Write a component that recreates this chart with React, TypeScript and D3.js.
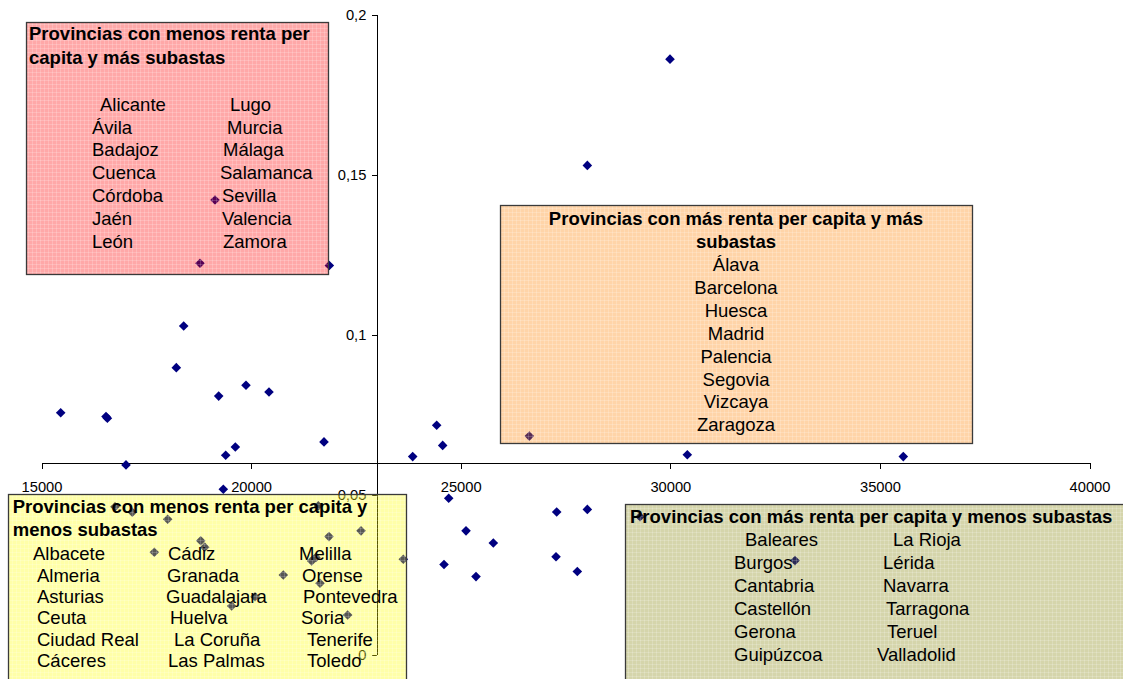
import React from "react";
import * as d3 from "d3";

// ---- data ----
const rentaPerCapita = [
  15446, 16527, 16560, 17004, 18380, 18204, 19215, 19866, 20415, 19382, 19612, 21727,
  23843, 24558, 24415, 30394, 35546, 29981, 28009, 19127, 18769, 21854, 26625, 19325,
  24702, 27278, 28009, 25115, 25766, 27262, 24590, 25353, 27770, 23619, 29266, 32963,
  16741, 17154, 17998, 21591, 22610, 21846, 18786, 18881, 17679, 21433, 21536, 20756,
  21632, 20081, 19525, 22292,
];
const subastas = [
  0.0757, 0.0745, 0.074, 0.0594, 0.1028, 0.0898, 0.0809, 0.0843, 0.0822, 0.0624, 0.065, 0.0666,
  0.062, 0.0655, 0.0718, 0.0626, 0.062, 0.1862, 0.153, 0.1422, 0.1224, 0.1217, 0.0684, 0.0518,
  0.049, 0.0447, 0.0455, 0.0388, 0.035, 0.0307, 0.0283, 0.0245, 0.0261, 0.0299, 0.0432, 0.0295,
  0.0463, 0.0446, 0.0424, 0.0466, 0.0388, 0.037, 0.0357, 0.0337, 0.0321, 0.0294, 0.0305, 0.025,
  0.0224, 0.0182, 0.0153, 0.0125,
];
const xTickValues = [15000, 20000, 25000, 30000, 35000, 40000];
const yTickValues = [0, 0.05, 0.1, 0.15, 0.2];
const xCross = 23000;
const yCross = 0.06;

const pinkTitle = ["Provincias con menos renta per", "capita y más subastas"];
const pinkCol1 = ["Alicante", "Ávila", "Badajoz", "Cuenca", "Córdoba", "Jaén", "León"];
const pinkCol2 = ["Lugo", "Murcia", "Málaga", "Salamanca", "Sevilla", "Valencia", "Zamora"];

const orangeTitle = ["Provincias con más renta per capita y más", "subastas"];
const orangeNames = ["Álava", "Barcelona", "Huesca", "Madrid", "Palencia", "Segovia", "Vizcaya", "Zaragoza"];

const yellowTitle = ["Provincias con menos renta per capita y", "menos subastas"];
const yellowCol1 = ["Albacete", "Almeria", "Asturias", "Ceuta", "Ciudad Real", "Cáceres"];
const yellowCol2 = ["Cádiz", "Granada", "Guadalajara", "Huelva", "La Coruña", "Las Palmas"];
const yellowCol3 = ["Melilla", "Orense", "Pontevedra", "Soria", "Tenerife", "Toledo"];

const khakiTitle = ["Provincias con más renta per capita y menos subastas"];
const khakiCol1 = ["Baleares", "Burgos", "Cantabria", "Castellón", "Gerona", "Guipúzcoa"];
const khakiCol2 = ["La Rioja", "Lérida", "Navarra", "Tarragona", "Teruel", "Valladolid"];

// ---- layout ----
const W = 1123;
const H = 679;
const FONT = "'Liberation Sans', Arial, Helvetica, sans-serif";
const BOX_FS = 18.5;
const AXIS_FS = 14.7;

const x = d3.scaleLinear().domain([15000, 40000]).range([42, 1090]);
const y = d3.scaleLinear().domain([0, 0.2]).range([655, 15]);

const fmtY = (d: number) => (d === 0 ? "0" : String(d).replace(".", ","));

type Col = { names: string[]; xs: number[] };
type Box = {
  id: string;
  rect: [number, number, number, number];
  color: string;
  alpha: number;
  title: string[];
  titleX: number;
  titleY0: number;
  titleDy: number;
  anchor: "start" | "middle";
  cols: Col[];
  rowY0: number;
  rowDy: number;
};

const boxes: Box[] = [
  {
    id: "pink",
    rect: [26, 22, 328, 274],
    color: "#ff0000",
    alpha: 0.34,
    title: pinkTitle,
    titleX: 29,
    titleY0: 40,
    titleDy: 23.5,
    anchor: "start",
    cols: [
      { names: pinkCol1, xs: [100, 92, 92, 92, 92, 92, 92] },
      { names: pinkCol2, xs: [230, 227, 223, 220, 222, 222, 223] },
    ],
    rowY0: 110.8,
    rowDy: 22.8,
  },
  {
    id: "orange",
    rect: [500, 205, 972, 443],
    color: "#ff8000",
    alpha: 0.34,
    title: orangeTitle,
    titleX: 736,
    titleY0: 225,
    titleDy: 23.3,
    anchor: "middle",
    cols: [{ names: orangeNames, xs: orangeNames.map(() => 736) }],
    rowY0: 271,
    rowDy: 22.9,
  },
  {
    id: "yellow",
    rect: [8, 494, 406, 700],
    color: "#ffff00",
    alpha: 0.34,
    title: yellowTitle,
    titleX: 12.7,
    titleY0: 513,
    titleDy: 22.5,
    anchor: "start",
    cols: [
      { names: yellowCol1, xs: [33, 37, 37, 37, 37, 37] },
      { names: yellowCol2, xs: [168, 167, 166, 170, 174, 168] },
      { names: yellowCol3, xs: [299, 302, 303, 301, 307, 307] },
    ],
    rowY0: 560.3,
    rowDy: 21.3,
  },
  {
    id: "khaki",
    rect: [625, 504, 1130, 700],
    color: "#808000",
    alpha: 0.33,
    title: khakiTitle,
    titleX: 630,
    titleY0: 523,
    titleDy: 23,
    anchor: "start",
    cols: [
      { names: khakiCol1, xs: [745, 734, 734, 734, 734, 734] },
      { names: khakiCol2, xs: [893, 883, 883, 886, 887, 877] },
    ],
    rowY0: 546.3,
    rowDy: 23.0,
  },
];

const diamond = d3.symbol().type(d3.symbolSquare).size(46)() as string;

export default function App() {
  const axisY = y(yCross);
  const axisX = x(xCross);
  const pts = rentaPerCapita.map((r, i) => ({ r, s: subastas[i] }));

  return (
    <svg
      width={W}
      height={H}
      style={{ position: "absolute", left: 0, top: 0, background: "#fff", overflow: "hidden" }}
      fontFamily={FONT}
    >
      <defs>
        {boxes.map((b) => (
          <pattern key={b.id} id={"pat-" + b.id} width={4} height={4} patternUnits="userSpaceOnUse">
            <rect x={0} y={0} width={4} height={4} fill={b.color} fillOpacity={b.alpha} />
            <rect x={0} y={0} width={4} height={1} fill="#fff" fillOpacity={0.18} />
            <rect x={0} y={0} width={1} height={4} fill="#fff" fillOpacity={0.18} />
          </pattern>
        ))}
      </defs>

      {/* axes */}
      <g stroke="#000" strokeWidth={1} shapeRendering="crispEdges">
        <line x1={x(15000)} x2={x(40000)} y1={axisY} y2={axisY} />
        {xTickValues.map((t) => (
          <line key={"xt" + t} x1={x(t)} x2={x(t)} y1={axisY} y2={axisY + 5.5} />
        ))}
        <line x1={axisX} x2={axisX} y1={y(0.2)} y2={y(0)} />
        {yTickValues.map((t) => (
          <line key={"yt" + t} x1={axisX - 5} x2={axisX} y1={y(t)} y2={y(t)} />
        ))}
      </g>
      <g fontSize={AXIS_FS} fill="#000">
        {xTickValues.map((t) => (
          <text key={"xl" + t} x={x(t)} y={axisY + 28.5} textAnchor="middle">
            {String(t)}
          </text>
        ))}
        {yTickValues.map((t) => (
          <text key={"yl" + t} x={axisX - 11} y={y(t) + 5.2} textAnchor="end">
            {fmtY(t)}
          </text>
        ))}
      </g>

      {/* points */}
      <g fill="#000080">
        {pts.map((p, i) => (
          <path key={i} d={diamond} transform={`translate(${x(p.r)},${y(p.s)}) rotate(45)`} />
        ))}
      </g>

      {/* text boxes */}
      {boxes.map((b) => {
        const [x0, y0, x1, y1] = b.rect;
        return (
          <g key={b.id}>
            <rect
              x={x0 + 0.5}
              y={y0 + 0.5}
              width={x1 - x0}
              height={y1 - y0}
              fill={`url(#pat-${b.id})`}
              stroke="#3a3a3a"
              strokeWidth={1.3}
            />
            {b.title.map((t, i) => (
              <text
                key={"t" + i}
                x={b.titleX}
                y={b.titleY0 + i * b.titleDy}
                fontSize={BOX_FS}
                fontWeight="bold"
                textAnchor={b.anchor}
                fill="#000"
              >
                {t}
              </text>
            ))}
            {b.cols.map((c, ci) =>
              c.names.map((n, ri) => (
                <text
                  key={"n" + ci + "-" + ri}
                  x={c.xs[ri]}
                  y={b.rowY0 + ri * b.rowDy}
                  fontSize={BOX_FS}
                  textAnchor={b.anchor}
                  fill="#000"
                >
                  {n}
                </text>
              ))
            )}
          </g>
        );
      })}
    </svg>
  );
}
